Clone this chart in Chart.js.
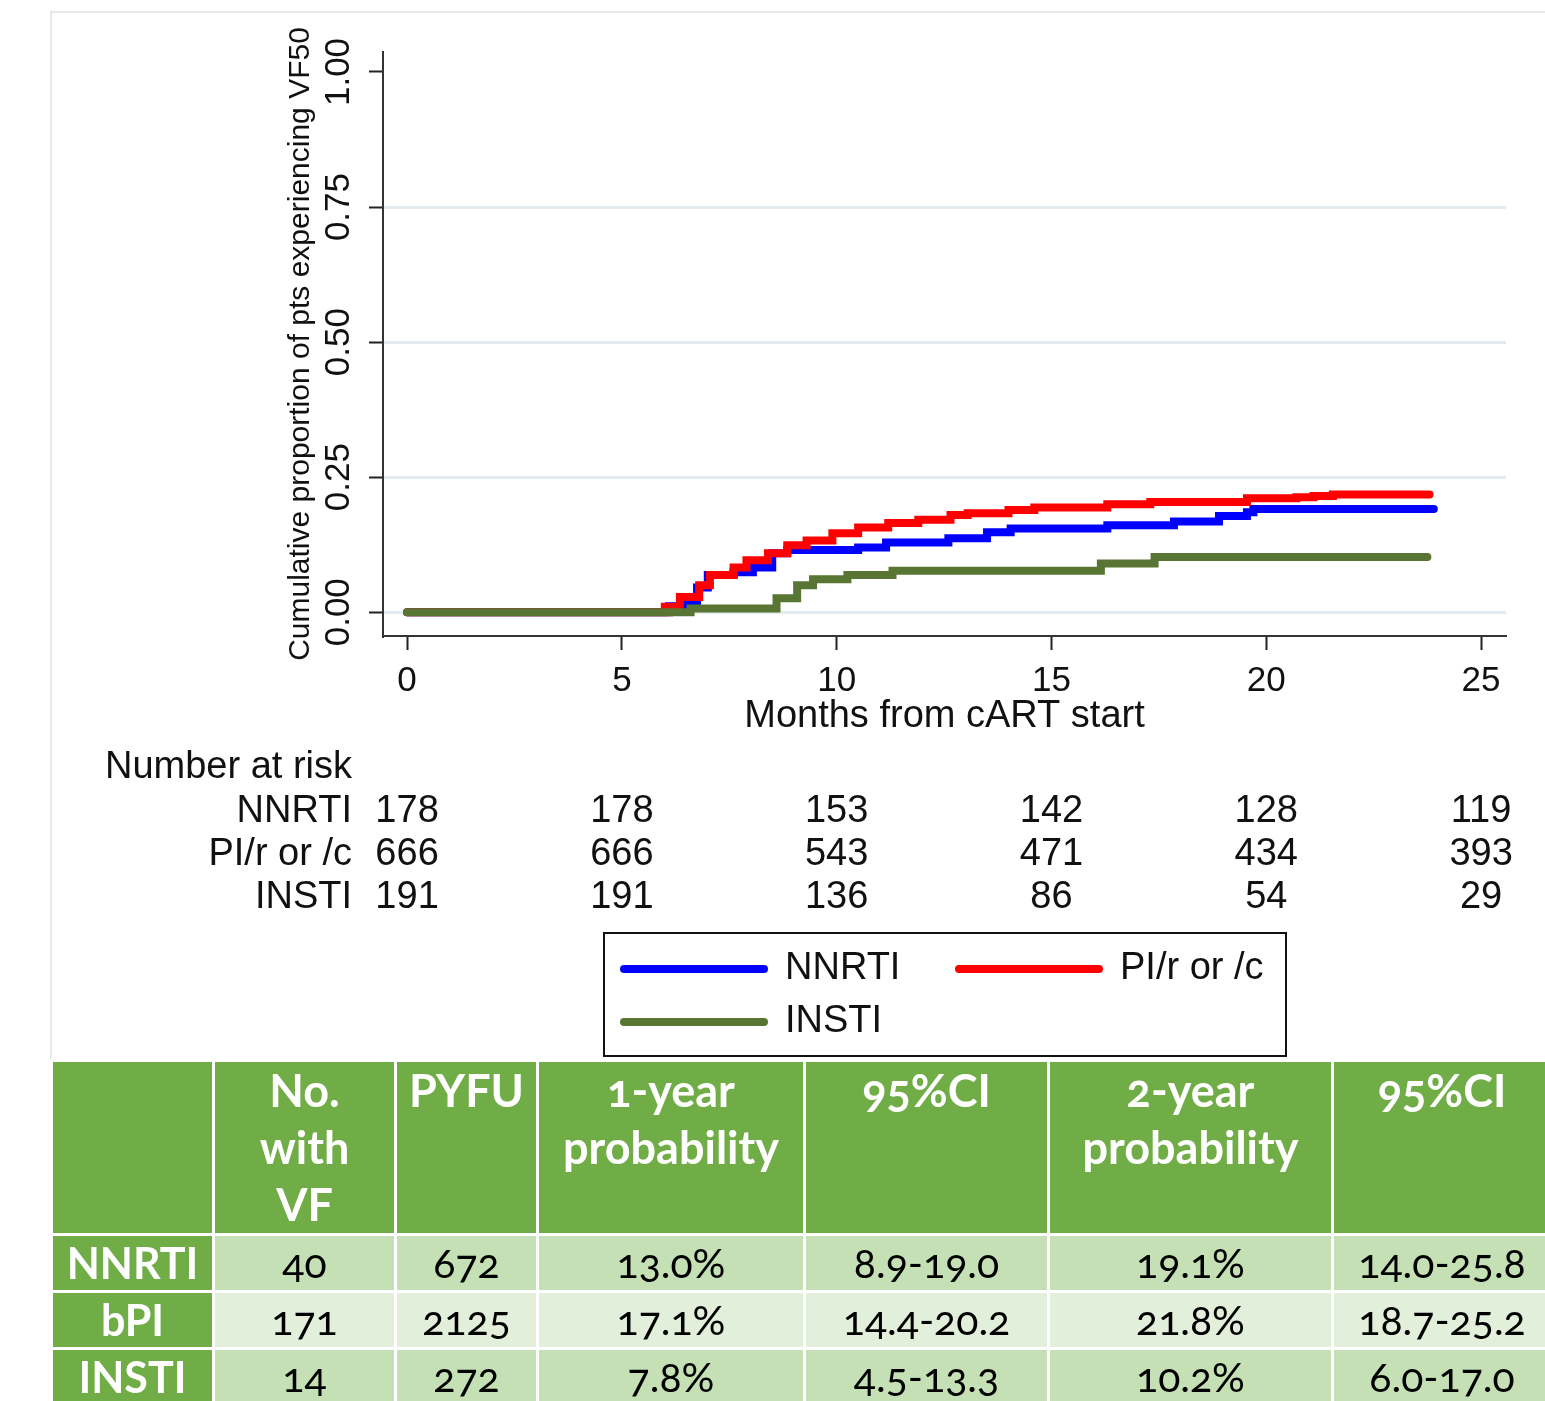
<!DOCTYPE html>
<html>
<head>
<meta charset="utf-8">
<script src="https://cdn.jsdelivr.net/npm/chart.js@4.4.1/dist/chart.umd.min.js"></script>
<style>
  html, body { margin: 0; padding: 0; background: #fff; overflow: hidden; }
  body { width: 1545px; height: 1401px; position: relative; }
  #wrap { position: absolute; left: 0; top: 0; width: 1545px; height: 1060px; }
  #stats { position: absolute; left: 50px; top: 1059px; border-collapse: collapse; table-layout: fixed;
           font-family: Lato, "Open Sans", sans-serif; font-feature-settings: "onum"; }
  #stats td, #stats th { border: 3px solid #fff; text-align: center; padding: 0; }
  #stats th { background: #70ad47; color: #fff; font-weight: 700; font-size: 45px; line-height: 57px;
              vertical-align: top; padding-top: 0; height: 165px; }
  #stats td { font-size: 41px; color: #000; height: 54px; line-height: 54px; }
  #stats td.grp { background: #70ad47; color: #fff; font-weight: 700; font-size: 43px; }
  #stats tr.dark td { background: #c5e0b4; }
  #stats tr.light td { background: #e2efda; }
  #stats tr td.grp { background: #70ad47; }
</style>
</head>
<body>
<div id="wrap"><canvas id="myChart" width="1545" height="1060"></canvas></div>
<table id="stats"></table>
<script>
// KM curves: months and cumulative proportion
var nnrtiT = [0, 6.1, 6.5, 6.75, 7.0, 7.6, 8.05, 8.5, 8.85, 10.5, 11.15, 12.6, 13.5, 14.05, 16.3, 17.85, 18.9, 19.55, 19.7, 23.9];
var nnrtiP = [0, 0.011, 0.017, 0.046, 0.069, 0.074, 0.083, 0.109, 0.115, 0.120, 0.129, 0.137, 0.148, 0.155, 0.161, 0.168, 0.178, 0.185, 0.191, 0.191];

var piT = [0, 6.0, 6.35, 6.8, 7.05, 7.6, 7.9, 8.4, 8.85, 9.3, 9.9, 10.5, 11.2, 11.9, 12.65, 13.05, 14.0, 14.6, 16.3, 17.3, 19.55, 20.7, 21.1, 21.55, 23.8];
var piP = [0, 0.010, 0.028, 0.050, 0.069, 0.083, 0.096, 0.109, 0.124, 0.133, 0.146, 0.157, 0.165, 0.171, 0.180, 0.183, 0.189, 0.194, 0.200, 0.204, 0.211, 0.213, 0.215, 0.218, 0.218];

var instiT = [0, 6.6, 8.6, 9.08, 9.45, 10.25, 11.3, 16.15, 17.4, 23.75];
var instiP = [0, 0.007, 0.026, 0.050, 0.061, 0.069, 0.077, 0.090, 0.102, 0.102];

var xTicks = [0, 5, 10, 15, 20, 25];
var yTicks = [0, 0.25, 0.5, 0.75, 1];

// number at risk
var riskLabels = ['NNRTI', 'PI/r or /c', 'INSTI'];
var riskNNRTI = [178, 178, 153, 142, 128, 119];
var riskPI = [666, 666, 543, 471, 434, 393];
var riskINSTI = [191, 191, 136, 86, 54, 29];

// summary table
var tableHead = ['', 'No.<br>with<br>VF', 'PYFU', '1-year<br>probability', '95%CI', '2-year<br>probability', '95%CI'];
var tableGroups = ['NNRTI', 'bPI', 'INSTI'];
var noWithVF = ['40', '171', '14'];
var pyfu = ['672', '2125', '272'];
var prob1 = ['13.0%', '17.1%', '7.8%'];
var ci1 = ['8.9-19.0', '14.4-20.2', '4.5-13.3'];
var prob2 = ['19.1%', '21.8%', '10.2%'];
var ci2 = ['14.0-25.8', '18.7-25.2', '6.0-17.0'];
var colWidths = [162, 182, 142, 267, 244, 284, 219];

function pts(t, p) {
    return t.map(function (v, i) { return { x: v, y: p[i] }; });
}

var FONT = '"Liberation Sans", Arial, sans-serif';

var extras = {
    id: 'extras',
    beforeDraw: function (chart) {
        var c = chart.ctx;
        c.save();
        c.fillStyle = '#fff';
        c.fillRect(0, 0, chart.width, chart.height);
        c.strokeStyle = '#e6eaee';
        c.lineWidth = 2;
        c.beginPath();
        c.moveTo(51, chart.height);
        c.lineTo(51, 12);
        c.lineTo(chart.width, 12);
        c.stroke();
        c.restore();
    },
    afterDraw: function (chart) {
        var c = chart.ctx;
        var xs = chart.scales.x, ys = chart.scales.y;
        var area = chart.chartArea;
        c.save();
        c.fillStyle = '#111';

        // y tick labels, rotated like Stata
        c.font = '35px ' + FONT;
        c.textAlign = 'center';
        c.textBaseline = 'middle';
        yTicks.forEach(function (v) {
            c.save();
            c.translate(339, ys.getPixelForValue(v));
            c.rotate(-Math.PI / 2);
            c.fillText(v.toFixed(2), 0, 0);
            c.restore();
        });

        // y title
        c.font = '30px ' + FONT;
        c.save();
        c.translate(301, (area.top + area.bottom) / 2);
        c.rotate(-Math.PI / 2);
        c.fillText('Cumulative proportion of pts experiencing VF50', 0, 0);
        c.restore();

        // x title
        c.font = '38px ' + FONT;
        c.fillText('Months from cART start', (area.left + area.right) / 2, 717);

        // number at risk
        c.textAlign = 'left';
        c.fillText('Number at risk', 105, 768);
        var rows = [riskNNRTI, riskPI, riskINSTI];
        rows.forEach(function (r, i) {
            var y = 812 + i * 43;
            c.textAlign = 'right';
            c.fillText(riskLabels[i], 352, y);
            c.textAlign = 'center';
            r.forEach(function (n, j) {
                c.fillText(String(n), xs.getPixelForValue(xTicks[j]), y);
            });
        });

        // legend box
        c.strokeStyle = '#111';
        c.lineWidth = 2;
        c.strokeRect(604, 933, 682, 123);
        var ds = chart.data.datasets;
        var slots = [[620, 969], [955, 969], [620, 1022]];
        c.lineCap = 'round';
        c.textAlign = 'left';
        ds.forEach(function (d, i) {
            var s = slots[i];
            c.strokeStyle = d.borderColor;
            c.lineWidth = 8;
            c.beginPath();
            c.moveTo(s[0] + 4, s[1]);
            c.lineTo(s[0] + 144, s[1]);
            c.stroke();
            c.fillStyle = '#111';
            c.fillText(d.label, s[0] + 165, s[1]);
        });
        c.restore();
    }
};

var ctx = document.getElementById('myChart').getContext('2d');
var chart = new Chart(ctx, {
    type: 'line',
    data: {
        datasets: [
            { label: 'NNRTI', data: pts(nnrtiT, nnrtiP), borderColor: '#0000ff', order: 2 },
            { label: 'PI/r or /c', data: pts(piT, piP), borderColor: '#ff0000', order: 1 },
            { label: 'INSTI', data: pts(instiT, instiP), borderColor: '#587533', order: 0 }
        ]
    },
    options: {
        responsive: false,
        animation: false,
        layout: { padding: { top: 52, right: 39, left: 0, bottom: 0 } },
        datasets: {
            line: { stepped: true, borderWidth: 8, pointRadius: 0, fill: false, borderCapStyle: 'round' }
        },
        plugins: { legend: { display: false }, tooltip: { enabled: false } },
        scales: {
            x: {
                type: 'linear',
                min: -0.56, max: 25.58,
                afterFit: function (s) { s.height = 424; },
                afterBuildTicks: function (s) { s.ticks = xTicks.map(function (v) { return { value: v }; }); },
                grid: { drawOnChartArea: false, drawTicks: true, tickLength: 14, tickColor: '#222', tickWidth: 2 },
                border: { display: true, color: '#333', width: 2 },
                ticks: { color: '#111', font: { family: FONT, size: 35 }, padding: 10, maxRotation: 0 }
            },
            y: {
                type: 'linear',
                min: -0.044, max: 1.037,
                afterFit: function (s) { s.width = 383; },
                afterBuildTicks: function (s) { s.ticks = yTicks.map(function (v) { return { value: v }; }); },
                grid: {
                    color: function (c) { return c.tick && c.tick.value === 1 ? 'rgba(0,0,0,0)' : '#e4ebee'; },
                    lineWidth: 3, drawTicks: true, tickLength: 14, tickColor: '#222', tickWidth: 2
                },
                border: { display: true, color: '#333', width: 2 },
                ticks: { display: false }
            }
        }
    },
    plugins: [extras]
});

// summary table under the chart
var tbl = document.getElementById('stats');
var html = '<colgroup>' + colWidths.map(function (w) { return '<col style="width:' + w + 'px">'; }).join('') + '</colgroup>';
html += '<tr>' + tableHead.map(function (h) { return '<th>' + h + '</th>'; }).join('') + '</tr>';
tableGroups.forEach(function (g, i) {
    html += '<tr class="' + (i === 1 ? 'light' : 'dark') + '"><td class="grp">' + g + '</td><td>' + noWithVF[i] +
        '</td><td>' + pyfu[i] + '</td><td>' + prob1[i] + '</td><td>' + ci1[i] + '</td><td>' + prob2[i] +
        '</td><td>' + ci2[i] + '</td></tr>';
});
tbl.innerHTML = html;
tbl.style.width = colWidths.reduce(function (a, b) { return a + b; }, 0) + 'px';
</script>
</body>
</html>
